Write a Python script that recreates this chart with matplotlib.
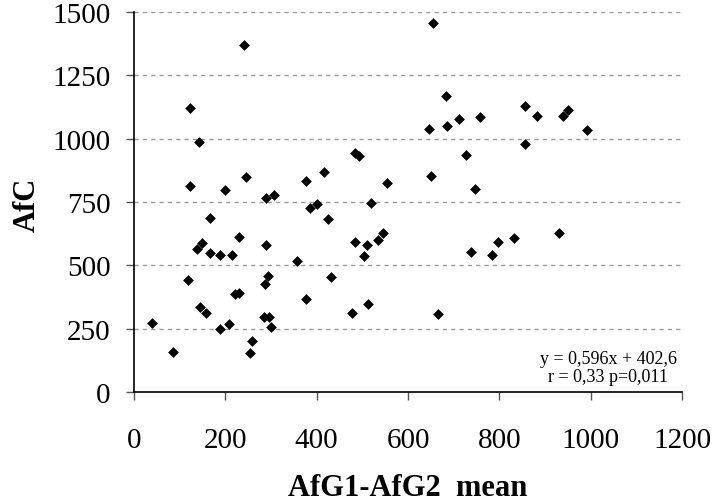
import matplotlib
matplotlib.use("Agg")
import matplotlib.pyplot as plt

# Data
afg_mean = [240, 122, 142, 123, 199, 245, 289, 307, 377, 416,
            386, 401, 424, 166, 148, 137, 166, 188, 214, 231,
            289, 358, 119, 294, 287, 221, 230, 377, 145, 158,
            284, 295, 301, 188, 207, 39, 86, 258, 253, 432,
            655, 684, 647, 685, 712, 757, 485, 492, 555, 650,
            728, 747, 518, 484, 510, 504, 534, 546, 477, 512,
            666, 738, 785, 798, 832, 856, 882, 939, 950, 992,
            856, 930]
afc = [1371, 1121, 987, 812, 796, 850, 766, 776, 834, 867,
       726, 742, 684, 687, 589, 563, 547, 542, 542, 613,
       580, 517, 443, 459, 425, 387, 392, 367, 334, 312,
       295, 295, 255, 250, 268, 272, 159, 201, 155, 454,
       1455, 1167, 1038, 1051, 1076, 1084, 943, 932, 826, 854,
       934, 800, 746, 591, 580, 537, 600, 626, 312, 346,
       309, 554, 542, 591, 609, 1130, 1088, 1088, 1113, 1033,
       980, 626]

x_ticks = [0, 200, 400, 600, 800, 1000, 1200]
y_ticks = [0, 250, 500, 750, 1000, 1250, 1500]
x_label = "AfG1-AfG2  mean"
y_label = "AfC"
annotation = "y = 0,596x + 402,6\nr = 0,33 p=0,011"

plt.rcParams['font.family'] = ['Liberation Serif', 'DejaVu Serif']

W, H = 714, 502
fig = plt.figure(figsize=(W / 100, H / 100), dpi=100)
ax = fig.add_axes([134 / W, (H - 393) / H, (682 - 134) / W, (393 - 13) / H])

ax.scatter(afg_mean, afc, marker='D', s=30, color='black', zorder=3, linewidths=0)

ax.set_xlim(0, 1200)
ax.set_ylim(0, 1500)
ax.set_xticks(x_ticks)
ax.set_yticks(y_ticks)
ax.set_xticklabels([str(t) for t in x_ticks])
ax.set_yticklabels([str(t) for t in y_ticks])

for yv in y_ticks[1:]:
    ax.axhline(yv, color='#999999', linestyle=(0, (3, 3)), linewidth=1, zorder=1)

for side in ['top', 'right']:
    ax.spines[side].set_visible(False)
for side in ['left', 'bottom']:
    ax.spines[side].set_linewidth(1.2)
    ax.spines[side].set_color('black')

ax.tick_params(axis='x', direction='out', length=6, width=1, color='#555555',
               labelsize=21, pad=19)
ax.tick_params(axis='y', direction='out', length=6, width=1, color='#555555',
               labelsize=21, pad=11)

fig.text(408 / W, 1 - 496 / H, x_label, ha='center', va='baseline',
         fontsize=22, fontweight='bold')
fig.text(27 / W, 1 - 205 / H, y_label, ha='center', va='center',
         fontsize=22, fontweight='bold', rotation=90)

ax.text(0.865, 0.065, annotation, transform=ax.transAxes, ha='center',
        va='center', fontsize=13, linespacing=1.05, multialignment='center')

fig.savefig("out.png", dpi=100)
